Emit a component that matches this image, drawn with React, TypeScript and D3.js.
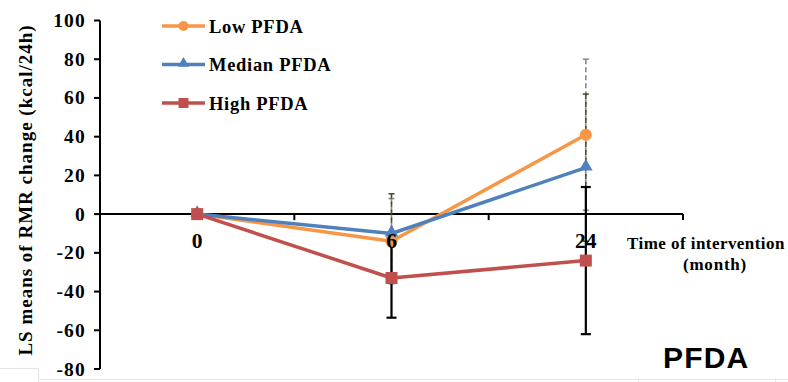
import React from "react";
import * as d3 from "d3";

// Months of intervention (categories on the x axis)
const months = ["0", "6", "24"];

// LS means of RMR change (kcal/24h) per PFDA tertile
const lowValues = [0, -14, 41];
const medianValues = [0, -10, 24];
const highValues = [0, -33, -24];

// Error bar half-widths
const lowErr = [0, 22, 39];
const medianErr = [0, 20.5, 38];
const highErr = [0, 20.5, 38];

const yTicks = [-80, -60, -40, -20, 0, 20, 40, 60, 80, 100];

const seriesNames = ["Low PFDA", "Median PFDA", "High PFDA"];

const W = 788;
const H = 382;

const serif = "'Liberation Serif', 'Times New Roman', serif";
const sans = "'Liberation Sans', Arial, sans-serif";

export default function App() {
  const y = d3.scaleLinear().domain([-80, 100]).range([369, 20.5]);
  const x = d3.scalePoint<string>().domain(months).range([100, 683]).padding(0.5);
  const step = x.step();
  const x0 = y(0);

  const series = [
    { name: seriesNames[0], values: lowValues, err: lowErr, color: "#F79646", marker: "circle", errColor: "#8a8a8a", dash: "5,3", errW: 1.6 },
    { name: seriesNames[1], values: medianValues, err: medianErr, color: "#4F81BD", marker: "triangle", errColor: "#4f4a2c", dash: "5,3", errW: 1.6 },
    { name: seriesNames[2], values: highValues, err: highErr, color: "#C0504D", marker: "square", errColor: "#000000", dash: null, errW: 2.2 },
  ];

  const line = d3
    .line<number>()
    .x((_, i) => x(months[i]) as number)
    .y((v) => y(v));

  const marker = (kind: string, cx: number, cy: number, color: string, s: number) => {
    if (kind === "circle") return <circle cx={cx} cy={cy} r={s / 2} fill={color} />;
    if (kind === "square") return <rect x={cx - s / 2} y={cy - s / 2} width={s} height={s} fill={color} />;
    const sym = d3.symbol().type(d3.symbolTriangle).size(s * s * 0.55)();
    return <path d={sym as string} transform={`translate(${cx},${cy - 1})`} fill={color} />;
  };

  // category boundary ticks on the x axis
  const boundaries = [0, 1, 2, 3].map((i) => 100 + i * step);

  return (
    <svg
      width={W}
      height={H}
      style={{ position: "absolute", left: 0, top: 0, background: "#fff" }}
    >
      {/* faint frame remnants along the bottom */}
      <g stroke="#e4e4e4" strokeWidth={1} fill="none">
        <path d="M0,368.5 H38.5 V382" />
        <path d="M38,379.5 H788" />
        <path d="M638.5,378 V382 M775.5,378 V382" />
      </g>

      {/* y axis */}
      <line x1={100} x2={100} y1={y(100)} y2={y(-80)} stroke="#000" strokeWidth={2} />
      {yTicks.map((t) => (
        <g key={t}>
          <line x1={94} x2={100} y1={y(t)} y2={y(t)} stroke="#000" strokeWidth={2} />
          <text
            x={86}
            y={y(t) + 6.5}
            textAnchor="end"
            fontFamily={serif}
            fontWeight="bold"
            fontSize={19.5}
            letterSpacing={1.2}
            fill="#000"
          >
            {t}
          </text>
        </g>
      ))}

      {/* x axis at zero */}
      <line x1={100} x2={683} y1={x0} y2={x0} stroke="#000" strokeWidth={2} />
      {boundaries.map((bx, i) => (
        <line key={i} x1={bx} x2={bx} y1={x0} y2={x0 + 6} stroke="#000" strokeWidth={2} />
      ))}

      {/* error bars */}
      {series.map((s) =>
        s.values.map((v, i) => {
          if (!s.err[i]) return null;
          const cx = x(months[i]) as number;
          const top = y(v + s.err[i]);
          const bot = y(v - s.err[i]);
          const cap = s.dash ? 3 : 5;
          return (
            <g key={s.name + i} stroke={s.errColor} strokeWidth={s.errW}>
              <line x1={cx} x2={cx} y1={top} y2={bot} strokeDasharray={s.dash ?? undefined} />
              <line x1={cx - cap} x2={cx + cap} y1={top} y2={top} />
              <line x1={cx - cap} x2={cx + cap} y1={bot} y2={bot} />
            </g>
          );
        })
      )}

      {/* series lines and markers */}
      {series.map((s) => (
        <g key={s.name}>
          <path d={line(s.values) as string} fill="none" stroke={s.color} strokeWidth={3.5} strokeLinejoin="round" />
          {s.values.map((v, i) => (
            <g key={i}>{marker(s.marker, x(months[i]) as number, y(v), s.color, 12)}</g>
          ))}
        </g>
      ))}

      {/* x tick labels */}
      {months.map((m) => (
        <text
          key={m}
          x={x(m) as number}
          y={x0 + 34}
          textAnchor="middle"
          fontFamily={serif}
          fontWeight="bold"
          fontSize={21.5}
          fill="#000"
        >
          {m}
        </text>
      ))}

      {/* legend */}
      {series.map((s, i) => {
        const ly = 26 + i * 38.5;
        return (
          <g key={s.name}>
            <line x1={162} x2={205} y1={ly} y2={ly} stroke={s.color} strokeWidth={3.5} />
            {marker(s.marker, 183.5, ly, s.color, 10)}
            <text
              x={209}
              y={ly + 6.5}
              fontFamily={serif}
              fontWeight="bold"
              fontSize={18.5}
              letterSpacing={0.7}
              fill="#000"
            >
              {s.name}
            </text>
          </g>
        );
      })}

      {/* y axis title */}
      <text
        transform="translate(32,190) rotate(-90)"
        textAnchor="middle"
        fontFamily={serif}
        fontWeight="bold"
        fontSize={19}
        letterSpacing={1}
        fill="#000"
      >
        LS means of RMR change (kcal/24h)
      </text>

      {/* x axis title */}
      <text
        x={627}
        y={249}
        fontFamily={serif}
        fontWeight="bold"
        fontSize={17}
        letterSpacing={0.45}
        fill="#000"
      >
        Time of intervention
      </text>
      <text
        x={715}
        y={270}
        textAnchor="middle"
        fontFamily={serif}
        fontWeight="bold"
        fontSize={17}
        letterSpacing={0.8}
        fill="#000"
      >
        (month)
      </text>

      {/* panel label */}
      <text x={663} y={368} fontFamily={sans} fontWeight="bold" fontSize={30} letterSpacing={1.2} fill="#000">
        PFDA
      </text>
    </svg>
  );
}
